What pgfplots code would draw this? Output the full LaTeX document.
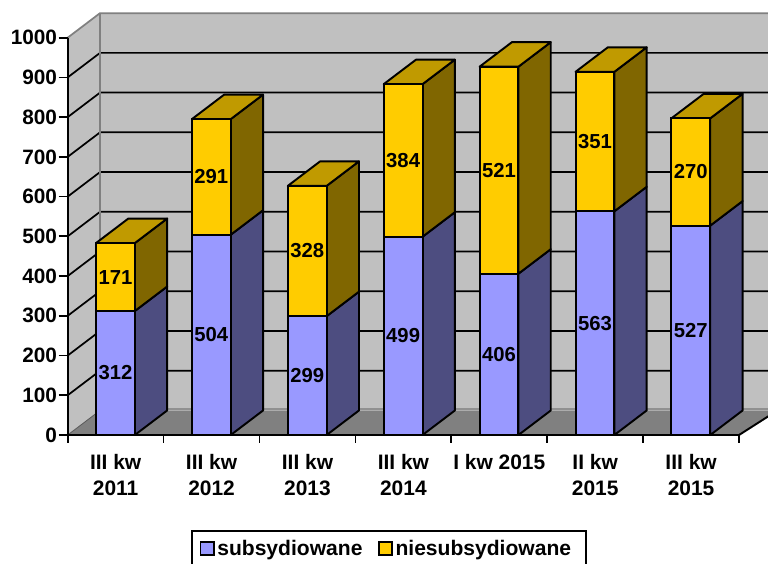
\documentclass[border=0pt]{standalone}
\usepackage{pgfplots}
\pgfplotsset{compat=1.18}
\usepackage{fontspec}
\setmainfont{Liberation Sans}
\definecolor{wall}{HTML}{C0C0C0}
\definecolor{floorc}{HTML}{808080}
\definecolor{blueF}{HTML}{9999FF}
\definecolor{blueS}{HTML}{4D4D80}
\definecolor{yelF}{HTML}{FFCC00}
\definecolor{yelS}{HTML}{806600}
\definecolor{yelT}{HTML}{C09A00}
\def\dxx{0.337}
\def\dyy{61.7}
\def\lw{1.45pt}
\newcommand{\sideface}[4]{%
  \pgfmathsetmacro\xa{#1+0.70}\pgfmathsetmacro\xb{#1+0.70+\dxx}%
  \pgfmathsetmacro\ya{#2+\dyy}\pgfmathsetmacro\yb{#3+\dyy}%
  \addplot[fill=#4,draw=black,line width=\lw,line join=round] coordinates {(\xa,#2)(\xb,\ya)(\xb,\yb)(\xa,#3)} --cycle;}
\newcommand{\topface}[2]{%
  \pgfmathsetmacro\xa{#1+0.295}\pgfmathsetmacro\xb{#1+0.70}%
  \pgfmathsetmacro\xc{#1+0.70+\dxx}\pgfmathsetmacro\xd{#1+0.295+\dxx}\pgfmathsetmacro\yb{#2+\dyy}%
  \addplot[fill=yelT,draw=black,line width=\lw,line join=round] coordinates {(\xa,#2)(\xb,#2)(\xc,\yb)(\xd,\yb)} --cycle;}
\pgfplotsset{base/.style={
  scale only axis,width=503.5pt,height=298pt,
  xmin=0,xmax=7,ymin=0,ymax=1000,clip=false}}
\begin{document}
\begin{tikzpicture}
\path[use as bounding box] (-50.78pt,-96.75pt) rectangle (525.22pt,326.25pt);
% walls, floor, grid and the depth faces of the bars
\begin{axis}[base,hide axis]
\addplot[fill=wall,draw=none] coordinates {(\dxx,\dyy)(7.4,\dyy)(7.4,1061.7)(\dxx,1061.7)} --cycle;
\addplot[fill=wall,draw=none] coordinates {(0,0)(\dxx,\dyy)(\dxx,1061.7)(0,1000)} --cycle;
\addplot[fill=floorc,draw=none] coordinates {(0,0)(\dxx,\dyy)(7.4,\dyy)(7,0)} --cycle;
\pgfplotsinvokeforeach{100,200,300,400,500,600,700,800,900}{%
  \pgfmathsetmacro\yg{#1+\dyy}%
  \addplot[black,line width=1.3pt] coordinates {(0,#1)(\dxx,\yg)(7.4,\yg)};}
\addplot[color=floorc,line width=1.3pt] coordinates {(0,1000)(\dxx,1061.7)(7.4,1061.7)};
\addplot[color=floorc,line width=1.3pt] coordinates {(\dxx,66)(\dxx,1061.7)};
\addplot[color=floorc!75!wall,line width=1.8pt] coordinates {(\dxx,66)(7.4,66)};
\addplot[color=floorc!70!black,line width=0.6pt] coordinates {(0,0)(\dxx,\dyy)};
\addplot[black,line width=\lw] coordinates {(7,0)(7.4,\dyy)};
% bar depth: index, bottom, top
\sideface{0}{0}{312}{blueS}\sideface{0}{312}{483}{yelS}\topface{0}{483}
\sideface{1}{0}{504}{blueS}\sideface{1}{504}{795}{yelS}\topface{1}{795}
\sideface{2}{0}{299}{blueS}\sideface{2}{299}{627}{yelS}\topface{2}{627}
\sideface{3}{0}{499}{blueS}\sideface{3}{499}{883}{yelS}\topface{3}{883}
\sideface{4}{0}{406}{blueS}\sideface{4}{406}{927}{yelS}\topface{4}{927}
\sideface{5}{0}{563}{blueS}\sideface{5}{563}{914}{yelS}\topface{5}{914}
\sideface{6}{0}{527}{blueS}\sideface{6}{527}{797}{yelS}\topface{6}{797}
\end{axis}
% front faces, axes, labels, legend
\begin{axis}[base,
  ybar stacked,bar width=29.1pt,
  axis x line*=bottom,axis y line*=left,
  axis line style={line width=\lw,black},
  every tick/.style={black,line width=1.3pt},
  tick align=outside,
  major tick length=6.8pt,
  xtick={0.5,1.5,2.5,3.5,4.5,5.5,6.5},
  minor xtick={0,1,2,3,4,5,6,7},
  major x tick style={draw=none},
  minor x tick style={black,line width=1.3pt},
  minor tick length=6pt,
  xticklabels={{III kw\\2011},{III kw\\2012},{III kw\\2013},{III kw\\2014},{I kw 2015},{II kw\\2015},{III kw\\2015}},
  xticklabel style={align=center,anchor=north,yshift=-4.2pt,
    font=\bfseries\fontsize{15.7}{19.6}\selectfont},
  ytick={0,100,200,300,400,500,600,700,800,900,1000},
  yticklabel style={font=\bfseries\fontsize{15.6}{18}\selectfont,inner sep=1pt},
  /pgf/number format/assume math mode=true,
  /pgf/number format/1000 sep={},
  nodes near coords,
  every node near coord/.append style={font=\bfseries\fontsize{15.2}{18}\selectfont,black},
  legend style={at={(0.4786,-0.239)},anchor=north,draw=black,line width=1.4pt,
    font=\bfseries\fontsize{15.8}{18}\selectfont,inner xsep=5.5pt,inner ysep=5pt,
    /tikz/every even column/.style={column sep=9.5pt}},
  legend columns=2,
  legend image code/.code={\draw[#1,line width=1.3pt,draw=black] (-3pt,-4.8pt) rectangle (7pt,5.4pt);},
]
\addplot[fill=blueF,draw=black,line width=\lw] coordinates {(0.4975,312)(1.4975,504)(2.4975,299)(3.4975,499)(4.4975,406)(5.4975,563)(6.4975,527)};
\addplot[fill=yelF,draw=black,line width=\lw] coordinates {(0.4975,171)(1.4975,291)(2.4975,328)(3.4975,384)(4.4975,521)(5.4975,351)(6.4975,270)};
\legend{subsydiowane,niesubsydiowane\hspace*{3.5pt}}
\end{axis}
\end{tikzpicture}
\end{document}
